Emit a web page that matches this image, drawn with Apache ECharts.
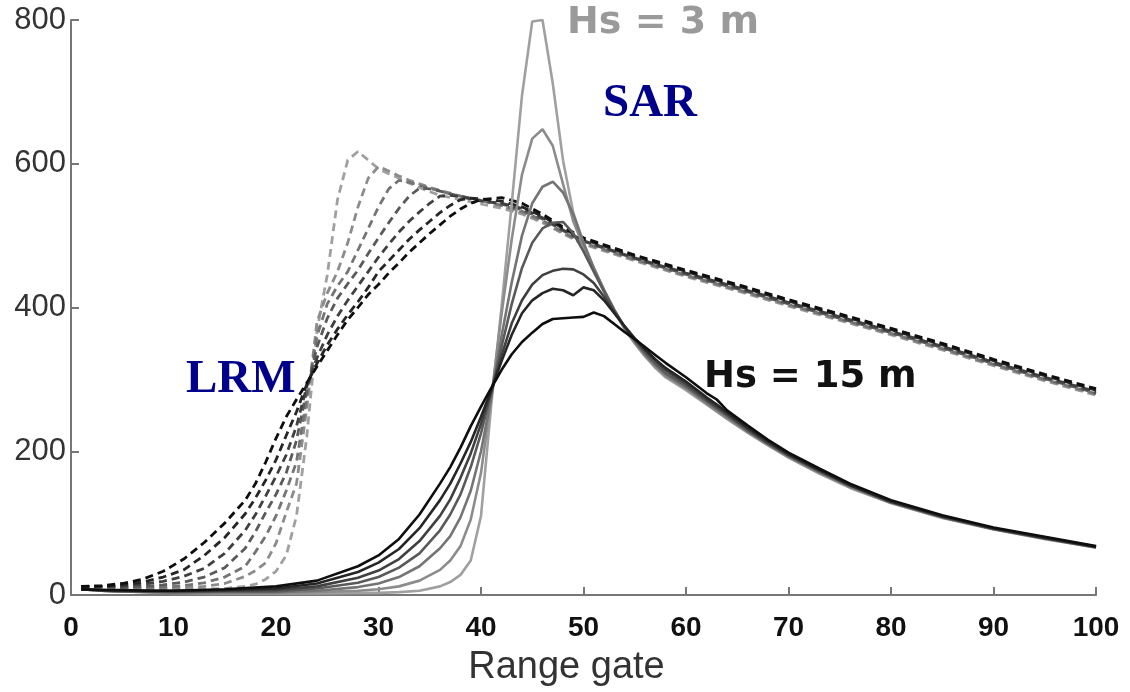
<!DOCTYPE html>
<html>
<head>
<meta charset="utf-8">
<script src="https://cdn.jsdelivr.net/npm/echarts@6/dist/echarts.min.js"></script>
<style>
html,body{margin:0;padding:0;background:#fff;}
#chart{width:1130px;height:692px;}
</style>
</head>
<body>
<div id="chart"></div>
<script>
// ---------------- DATA ----------------
const waveHeights = ['Hs = 3 m','Hs = 5 m','Hs = 7 m','Hs = 9 m','Hs = 11 m','Hs = 13 m','Hs = 15 m'];
const xTicks = [0,10,20,30,40,50,60,70,80,90,100];
const yTicks = [0,200,400,600,800];

// SAR (solid) range gates
const sarGates = [1,3,5,8,10,15,20,24,28,30,32,34,36,37,38,39,40,41,42,43,44,45,46,47,48,49,50,51,52,53,54,55,56,57,58,60,62,63,64,66,68,70,73,76,80,85,90,95,100];
const sarHs3  = [8,6,5,4,3,2,2,2,3,3,4,6,12,18,28,48,110,265,400,545,695,798,800,712,605,532,490,455,423,395,370,350,332,316,303,285,265,255,245,226,208,191,169,149,128,107,91,78,66];
const sarHs5  = [8,6,5,4,3,3,3,4,6,8,12,20,35,48,68,105,170,275,390,495,585,635,648,625,572,520,485,455,424,396,371,351,333,318,305,287,266,256,246,227,209,192,170,150,128,108,92,78,66];
const sarHs7  = [8,6,5,4,4,4,4,6,11,16,25,40,65,82,108,145,200,275,360,435,500,545,568,575,560,530,490,455,425,397,373,353,335,320,307,289,268,258,248,228,210,193,171,151,129,108,92,79,66];
const sarHs9  = [8,6,5,5,4,5,5,9,17,25,38,58,90,112,140,178,225,282,345,405,455,490,510,518,519,503,478,450,422,396,373,354,337,322,309,291,270,260,250,229,211,194,172,152,129,109,92,79,67];
const sarHs11 = [8,7,6,5,5,6,7,12,24,34,50,75,110,133,163,197,238,283,333,378,410,432,445,451,454,453,446,434,415,394,374,356,340,326,313,294,272,262,252,231,212,195,173,153,130,109,93,79,67];
const sarHs13 = [8,7,6,6,6,7,9,16,32,45,64,93,132,155,183,213,248,285,325,362,392,410,420,426,424,417,428,424,410,392,374,357,342,328,316,297,275,265,254,233,214,196,174,153,130,110,93,80,67];
const sarHs15 = [8,7,7,6,6,8,12,20,40,55,78,112,155,178,205,235,262,288,313,335,352,365,377,384,385,386,387,393,388,377,366,356,345,334,323,303,281,272,257,236,216,198,176,155,132,111,94,81,68];

// LRM (dashed) range gates
const lrmGates = [1,3,5,7,9,11,13,15,17,18,19,20,21,22,23,24,25,26,27,28,29,30,31,32,33,34,35,36,37,38,39,40,42,44,46,48,50,55,60,65,70,75,80,85,90,95,100];
const lrmHs3  = [12,11,10,9,8,8,8,9,12,15,22,33,55,110,220,368,445,550,605,617,605,593,586,580,573,567,561,556,553,550,547,544,538,530,518,503,488,465,443,423,402,382,362,341,319,298,278];
const lrmHs5  = [12,11,10,9,9,10,12,16,26,34,45,72,115,155,260,380,420,450,490,540,580,596,590,583,577,572,567,563,559,555,552,549,541,532,519,503,489,466,444,424,403,383,363,342,320,299,279];
const lrmHs7  = [12,11,10,10,11,13,17,25,40,60,82,110,145,185,275,360,405,430,450,480,510,540,565,577,574,570,566,562,558,555,552,549,542,534,521,505,490,467,445,425,404,384,364,343,321,300,280];
const lrmHs9  = [12,12,11,12,14,18,25,38,65,88,115,140,170,215,285,345,385,413,433,452,475,497,518,538,555,566,565,562,558,555,552,549,544,536,523,507,492,468,446,426,405,385,365,344,322,301,281];
const lrmHs11 = [12,12,12,15,19,26,37,58,90,112,138,165,195,235,290,330,362,388,410,430,450,470,488,505,520,533,545,555,556,554,551,548,545,538,525,508,493,469,448,428,407,387,367,346,324,303,283];
const lrmHs13 = [12,12,14,18,25,35,55,80,113,135,160,188,222,255,293,322,348,370,390,408,428,450,465,480,495,508,520,532,542,550,552,551,548,540,527,510,495,471,450,430,409,389,369,348,326,305,285];
const lrmHs15 = [12,13,16,22,33,50,73,100,132,155,185,218,248,272,295,318,340,362,383,400,418,432,448,462,477,490,503,515,527,537,545,550,553,545,530,512,497,473,452,432,411,391,371,350,328,307,287];

const sarSets = [sarHs3,sarHs5,sarHs7,sarHs9,sarHs11,sarHs13,sarHs15];
const lrmSets = [lrmHs3,lrmHs5,lrmHs7,lrmHs9,lrmHs11,lrmHs13,lrmHs15];

// ---------------- STYLE ----------------
const greys = ['#a0a0a0','#8c8c8c','#747474','#5a5a5a','#404040','#262626','#0e0e0e'];

const pair = (gates, vals) => gates.map((g, i) => [g, vals[i]]);
const series = [];
lrmSets.forEach((vals, i) => {
  series.push({
    name: 'LRM ' + waveHeights[i], type: 'line', data: pair(lrmGates, vals),
    showSymbol: false, symbol: 'none', silent: true,
    lineStyle: { color: greys[i], width: 2.8, type: [8, 5] }, z: 2 + i
  });
});
sarSets.forEach((vals, i) => {
  series.push({
    name: 'SAR ' + waveHeights[i], type: 'line', data: pair(sarGates, vals),
    showSymbol: false, symbol: 'none', silent: true,
    lineStyle: { color: greys[i], width: 2.6 }, z: 10 + i
  });
});

const chart = echarts.init(document.getElementById('chart'), null, { renderer: 'canvas' });
chart.setOption({
  animation: false,
  backgroundColor: '#ffffff',
  grid: { left: 71, right: 34, top: 20, bottom: 96, containLabel: false },
  xAxis: {
    type: 'value', min: 0, max: 100, interval: 10,
    name: 'Range gate', nameLocation: 'middle', nameGap: 54,
    nameTextStyle: { fontFamily: 'Liberation Sans', fontSize: 38, color: '#333', padding: [0, 34, 0, 0] },
    axisLine: { show: true, lineStyle: { color: '#777', width: 2 } },
    axisTick: { show: true, inside: true, length: 8, lineStyle: { color: '#777', width: 2 } },
    axisLabel: { fontFamily: 'Liberation Sans', fontWeight: 'bold', fontSize: 28, color: '#111', margin: 19,
      formatter: v => xTicks.includes(v) ? String(v) : '' },
    splitLine: { show: false }
  },
  yAxis: {
    type: 'value', min: 0, max: 800, interval: 200,
    axisLine: { show: true, lineStyle: { color: '#777', width: 2 } },
    axisTick: { show: true, inside: true, length: 8, lineStyle: { color: '#777', width: 2 } },
    axisLabel: { fontFamily: 'Liberation Sans', fontSize: 31, color: '#333', margin: 5,
      formatter: v => yTicks.includes(v) ? String(v) : '' },
    splitLine: { show: false }
  },
  graphic: [
    { type: 'text', left: 567, top: 4, style: { text: 'Hs = 3 m', fontFamily: 'DejaVu Sans', fontWeight: 'bold', fontSize: 38, fill: '#9a9a9a' } },
    { type: 'text', left: 603, top: 80, style: { text: 'SAR', fontFamily: 'Liberation Serif', fontWeight: 'bold', fontSize: 47, fill: '#00008b' } },
    { type: 'text', left: 186, top: 356, style: { text: 'LRM', fontFamily: 'Liberation Serif', fontWeight: 'bold', fontSize: 47, fill: '#00008b' } },
    { type: 'text', left: 704, top: 359, style: { text: 'Hs = 15 m', fontFamily: 'DejaVu Sans', fontWeight: 'bold', fontSize: 37, fill: '#111' } }
  ],
  series: series
});
</script>
</body>
</html>
